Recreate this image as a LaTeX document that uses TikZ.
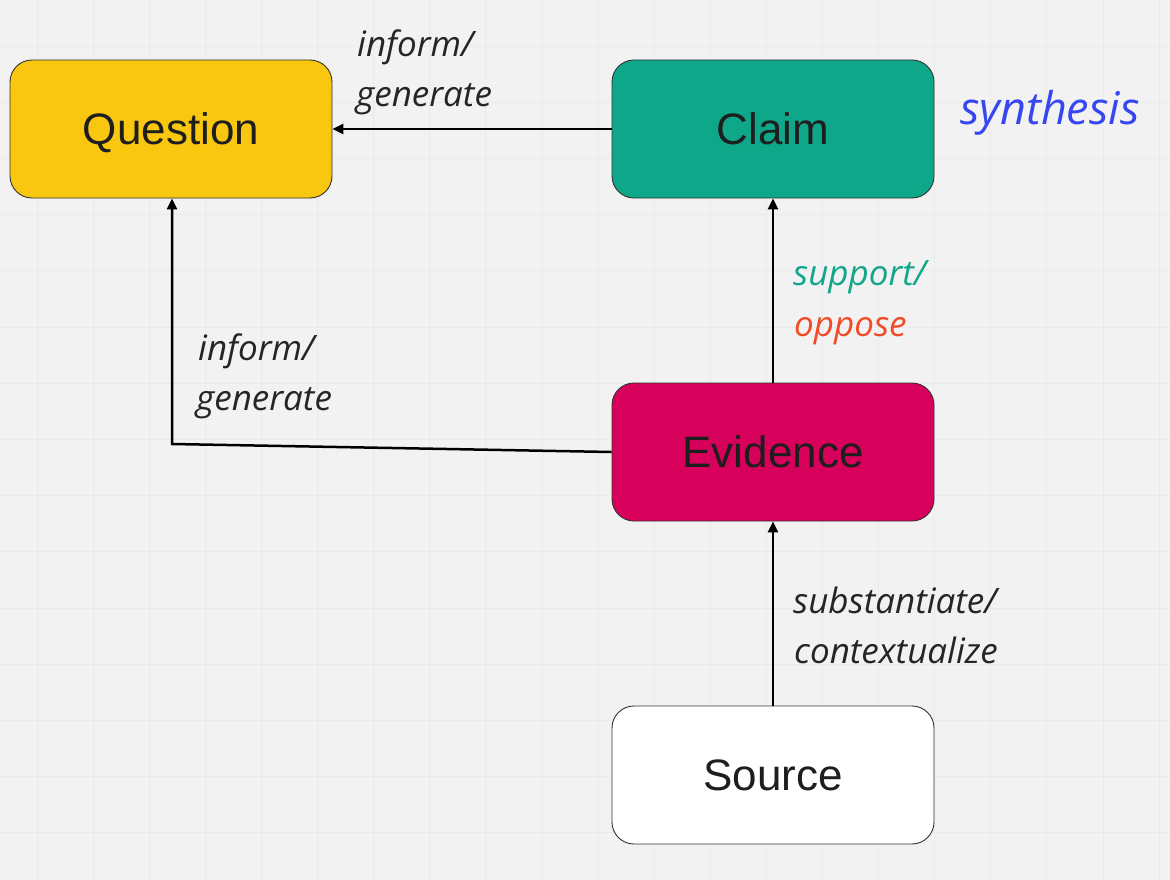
\documentclass[tikz,border=0pt]{standalone}
\usepackage{fontspec}
\setmainfont{Liberation Sans}
\newfontfamily\labfont{Open Sans}
\usetikzlibrary{arrows.meta}
\definecolor{bg}{HTML}{F2F2F2}
\definecolor{gridc}{HTML}{EAEAEA}
\definecolor{qyellow}{HTML}{F9C710}
\definecolor{cteal}{HTML}{0EA789}
\definecolor{emag}{HTML}{D7005B}
\definecolor{boxtext}{HTML}{1E1E1E}
\definecolor{labtext}{HTML}{252525}
\definecolor{steal}{HTML}{12A68A}
\definecolor{oppred}{HTML}{F24A26}
\definecolor{synblue}{HTML}{3646F0}
\tikzset{
  card/.style={draw=black!80, line width=0.9pt, rounded corners=22pt,
    minimum width=322pt, minimum height=138pt, inner sep=0pt,
    text=boxtext, font=\fontsize{44}{50}\selectfont, text height=31.5pt, text depth=0pt},
  link/.style={draw=black, line width=2.5pt, -{Triangle[length=11pt,width=10pt]}},
  lab/.style={anchor=base west, inner sep=0pt, text=labtext, font=\labfont\itshape\fontsize{35}{40}\selectfont}
}
\begin{document}
\begin{tikzpicture}[x=1pt,y=-1pt]
\fill[bg] (0,0) rectangle (1170,880);
\useasboundingbox (0,0) rectangle (1170,880);
\foreach \i in {0,...,20} {\draw[gridc, line width=0.8pt] (37+56.1*\i,0) -- (37+56.1*\i,880);}
\foreach \j in {0,...,15} {\draw[gridc, line width=0.8pt] (0,46+56.2*\j) -- (1170,46+56.2*\j);}

\node[card, fill=qyellow] (question) at (171,129) {Question};
\node[card, fill=cteal] (claim) at (773,129) {Claim};
\node[card, fill=emag] (evidence) at (773,452) {Evidence};
\node[card, fill=white] (source) at (773,775) {Source};

\coordinate (bend) at (172,444);
\draw[link] (claim.west) -- (question.east);
\draw[link] (evidence.west) -- (bend) -- (question.south -| bend);
\draw[link] (evidence.north) -- (claim.south);
\draw[link] (source.north) -- (evidence.south);

\node[lab] (l1a) at (357,57) {inform/};
\node[lab] (l1b) at (356,107) {generate};
\node[lab] (l2a) at (198,360) {inform/};
\node[lab] (l2b) at (196,410) {generate};
\node[lab, text=steal] (l3a) at (793,285) {support/};
\node[lab, text=oppred] (l3b) at (794,336) {oppose};
\node[lab] (l4a) at (793,613) {substantiate/};
\node[lab] (l4b) at (794,663) {contextualize};
\node[lab, text=synblue, font=\labfont\itshape\fontsize{45}{50}\selectfont] (syn) at (960,125) {synthesis};
\end{tikzpicture}
\end{document}
